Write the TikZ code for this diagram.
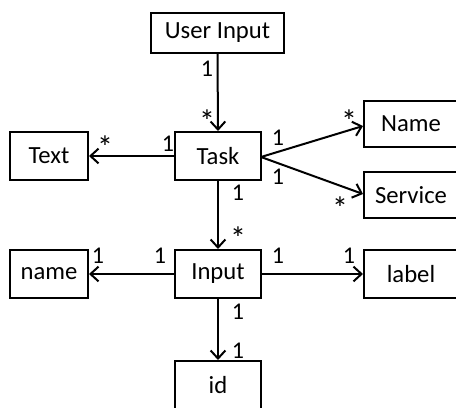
\documentclass[tikz,border=0pt]{standalone}
\usepackage{fontspec}
\setmainfont{Carlito}
\usetikzlibrary{arrows.meta}
\begin{document}
\begin{tikzpicture}[x=0.75pt,y=-0.75pt,
  box/.style={draw,line width=1.5pt,rectangle,inner sep=0pt,font=\fontsize{18.5}{22}\selectfont},
  conn/.style={line width=1.5pt,-{Straight Barb[length=6pt,width=11pt,line width=1.5pt]}},
  mult/.style={font=\fontsize{18}{21}\selectfont,inner sep=0pt},
  star/.style={font=\fontsize{24}{26}\selectfont,inner sep=0pt}]
\clip (0,0) rectangle (456,407);
\fill[white] (0,0) rectangle (456,407);
\node[box,minimum width=133*0.75pt,minimum height=40*0.75pt] (ui) at (217.5,33) {User Input};
\node[box,minimum width=86*0.75pt,minimum height=48*0.75pt] (task) at (218,156) {Task};
\node[box,minimum width=78*0.75pt,minimum height=48*0.75pt] (text) at (49,156) {Text};
\node[box,minimum width=94*0.75pt,minimum height=46*0.75pt] (nm) at (411,124) {Name};
\node[box,minimum width=94*0.75pt,minimum height=46*0.75pt] (svc) at (411,195) {Service};
\node[box,minimum width=86*0.75pt,minimum height=48*0.75pt] (inp) at (218,274) {Input};
\node[box,minimum width=78*0.75pt,minimum height=48*0.75pt] (lname) at (49,274) {name};
\node[box,minimum width=94*0.75pt,minimum height=48*0.75pt] (lab) at (411,274) {label};
\node[box,minimum width=86*0.75pt,minimum height=48*0.75pt] (id) at (218,385) {id};
\coordinate (te) at (261,157);
\draw[conn] (ui.south) -- (task.north);
\draw[conn] (task.west) -- (text.east);
\draw[conn] (te) -- (nm.west|-0,126);
\draw[conn] (te) -- (svc.west|-0,194);
\draw[conn] (task.south) -- (inp.north);
\draw[conn] (inp.west) -- (lname.east);
\draw[conn] (inp.east) -- (lab.west);
\draw[conn] (inp.south) -- (id.north);
\node[mult] (m1) at (207,69) {1};
\node[star] (m2) at (207,121) {*};
\node[mult] (m3) at (168,144) {1};
\node[star] (m4) at (105,147) {*};
\node[mult] (m5) at (278,138) {1};
\node[star] (m6) at (349,121) {*};
\node[mult] (m7) at (278,177) {1};
\node[star] (m8) at (340,208) {*};
\node[mult] (m9) at (238,193) {1};
\node[star] (m10) at (238,238) {*};
\node[mult] (m11) at (98,256) {1};
\node[mult] (m12) at (160,256) {1};
\node[mult] (m13) at (278,256) {1};
\node[mult] (m14) at (349,256) {1};
\node[mult] (m15) at (238,312) {1};
\node[mult] (m16) at (238,351) {1};
\end{tikzpicture}
\end{document}
